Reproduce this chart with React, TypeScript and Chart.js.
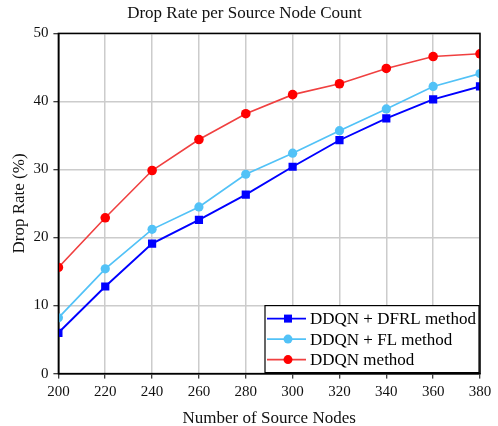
import React, { useEffect, useRef } from "react";
import { Chart, registerables } from "chart.js";

Chart.register(...registerables);

const nodeCounts = [200, 220, 240, 260, 280, 300, 320, 340, 360, 380];
const dfrlValues = [6.0, 12.8, 19.1, 22.6, 26.3, 30.4, 34.3, 37.5, 40.3, 42.2];
const flValues = [8.2, 15.4, 21.2, 24.5, 29.3, 32.4, 35.7, 38.9, 42.2, 44.1];
const ddqnValues = [15.6, 22.9, 29.85, 34.4, 38.2, 41.0, 42.6, 44.85, 46.6, 47.0];
const seriesLabels = ["DDQN + DFRL method", "DDQN + FL method", "DDQN method"];

const FONT = "'Liberation Serif', 'Times New Roman', serif";

export default function App() {
  const ref = useRef<HTMLCanvasElement | null>(null);

  useEffect(() => {
    if (!ref.current) return;

    const framePlugin = {
      id: "frame",
      afterDatasetsDraw(chart: any) {
        const { ctx, chartArea } = chart;
        ctx.save();
        ctx.strokeStyle = "#000";
        ctx.lineWidth = 1.5;
        ctx.strokeRect(chartArea.left, chartArea.top, chartArea.right - chartArea.left, chartArea.bottom - chartArea.top);
        ctx.restore();
      },
    };

    const legendPlugin = {
      id: "insideLegend",
      afterDraw(chart: any) {
        const { ctx, chartArea } = chart;
        const w = 214;
        const h = 67;
        const x = chartArea.right - w - 1;
        const y = chartArea.bottom - h - 1;
        ctx.save();
        ctx.fillStyle = "#fff";
        ctx.fillRect(x, y, w, h);
        ctx.strokeStyle = "#000";
        ctx.lineWidth = 1.2;
        ctx.strokeRect(x, y, w, h);
        ctx.font = `17px ${FONT}`;
        ctx.textBaseline = "middle";
        chart.data.datasets.forEach((ds: any, i: number) => {
          const cy = y + 13 + i * 20.5;
          ctx.strokeStyle = ds.borderColor;
          ctx.lineWidth = ds.borderWidth;
          ctx.beginPath();
          ctx.moveTo(x + 2, cy);
          ctx.lineTo(x + 41, cy);
          ctx.stroke();
          ctx.fillStyle = ds.pointBackgroundColor;
          const mx = x + 23;
          if (ds.pointStyle === "rect") {
            ctx.fillRect(mx - 4, cy - 4, 8, 8);
          } else {
            ctx.beginPath();
            ctx.arc(mx, cy, 4.5, 0, Math.PI * 2);
            ctx.fill();
          }
          ctx.fillStyle = "#000";
          ctx.fillText(ds.label, x + 45, cy + 1);
        });
        ctx.restore();
      },
    };

    const chart = new Chart(ref.current, {
      type: "line",
      data: {
        datasets: [
          {
            label: seriesLabels[0],
            data: nodeCounts.map((x, i) => ({ x, y: dfrlValues[i] })),
            borderColor: "#0000ff",
            backgroundColor: "#0000ff",
            pointBackgroundColor: "#0000ff",
            pointBorderWidth: 0,
            pointStyle: "rect",
            pointRadius: 5.8,
            borderWidth: 1.9,
          },
          {
            label: seriesLabels[1],
            data: nodeCounts.map((x, i) => ({ x, y: flValues[i] })),
            borderColor: "#52c2f7",
            backgroundColor: "#52c2f7",
            pointBackgroundColor: "#52c2f7",
            pointBorderWidth: 0,
            pointStyle: "circle",
            pointRadius: 4.6,
            borderWidth: 1.7,
          },
          {
            label: seriesLabels[2],
            data: nodeCounts.map((x, i) => ({ x, y: ddqnValues[i] })),
            borderColor: "#f04040",
            backgroundColor: "#ff0000",
            pointBackgroundColor: "#ff0000",
            pointBorderWidth: 0,
            pointStyle: "circle",
            pointRadius: 4.8,
            borderWidth: 1.6,
          },
        ],
      },
      options: {
        animation: false,
        responsive: false,
        layout: { padding: { left: 9, right: 18, top: 0, bottom: 0 } },
        plugins: {
          legend: { display: false },
          tooltip: { enabled: false },
          title: {
            display: true,
            text: "Drop Rate per Source Node Count",
            color: "#111",
            font: { family: FONT, size: 17, weight: "normal" },
            padding: { top: 3, bottom: 10 },
          },
        },
        scales: {
          x: {
            type: "linear",
            min: 200,
            max: 380,
            ticks: { stepSize: 20, color: "#111", font: { family: FONT, size: 15 }, padding: 4 },
            grid: { color: "#cccccc", lineWidth: 1.5, tickColor: "#000", tickLength: 5, tickWidth: 1 },
            border: { color: "#000", width: 1.5 },
            title: {
              display: true,
              text: "Number of Source Nodes",
              color: "#111",
              font: { family: FONT, size: 17 },
              padding: { top: 4, bottom: -3 },
            },
          },
          y: {
            min: 0,
            max: 50,
            ticks: { stepSize: 10, color: "#111", font: { family: FONT, size: 15 }, padding: 5 },
            grid: { color: "#cccccc", lineWidth: 1.5, tickColor: "#000", tickLength: 5, tickWidth: 1 },
            border: { color: "#000", width: 1.5 },
            title: {
              display: true,
              text: "Drop Rate (%)",
              color: "#111",
              font: { family: FONT, size: 17 },
              padding: { top: 0, bottom: -1 },
            },
          },
        },
      },
      plugins: [framePlugin, legendPlugin],
    });

    return () => chart.destroy();
  }, []);

  return (
    <div style={{ position: "fixed", left: 0, top: 0, width: 498, height: 426, background: "#fff" }}>
      <canvas ref={ref} width={498} height={426} style={{ width: 498, height: 426, display: "block" }} />
    </div>
  );
}
